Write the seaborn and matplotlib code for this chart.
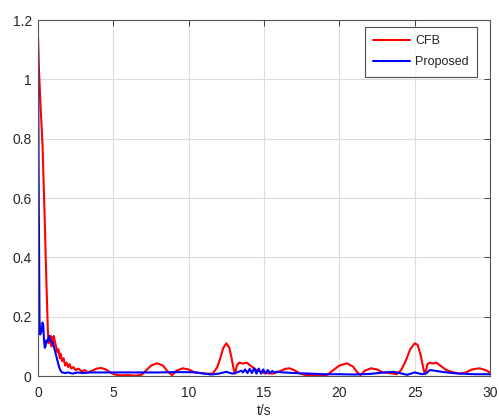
import matplotlib
matplotlib.use("Agg")
import matplotlib.pyplot as plt
import seaborn as sns
import pandas as pd
from matplotlib.ticker import FormatStrFormatter

cfb_t = [0, 0.05, 0.15, 0.3, 0.45, 0.55, 0.65, 0.7, 0.75, 0.8, 0.85, 0.9, 0.95, 1.0, 1.05, 1.1,
         1.2, 1.3, 1.35, 1.45, 1.5, 1.6, 1.7, 1.8, 1.9, 2.0, 2.1, 2.2, 2.35, 2.5, 2.7, 2.9, 3.1,
         3.3, 3.6, 3.9, 4.2, 4.5, 4.8, 5.1, 5.5, 6.0, 6.5, 6.9, 7.2, 7.5, 7.9, 8.3, 8.6, 8.9,
         9.2, 9.6, 10.0, 10.4, 10.8, 11.2, 11.6, 11.9, 12.1, 12.3, 12.5, 12.7, 12.85, 13.0,
         13.08, 13.2, 13.35, 13.6, 13.85, 14.1, 14.5, 15.0, 15.6, 16.0, 16.4, 16.7, 17.0, 17.4,
         17.8, 18.5, 19.2, 19.6, 20.0, 20.5, 20.9, 21.2, 21.4, 21.7, 22.1, 22.5, 22.9, 23.35,
         23.8, 24.1, 24.4, 24.7, 25.0, 25.2, 25.4, 25.6, 25.7, 25.85, 26.0, 26.2, 26.45, 26.7,
         27.1, 27.6, 28.0, 28.4, 28.8, 29.3, 29.7, 30.0]
cfb_v = [1.14, 1.05, 0.93, 0.78, 0.52, 0.33, 0.16, 0.11, 0.13, 0.12, 0.135, 0.10, 0.13, 0.115,
         0.135, 0.12, 0.10, 0.08, 0.09, 0.06, 0.075, 0.05, 0.06, 0.035, 0.045, 0.03, 0.04, 0.025,
         0.03, 0.02, 0.025, 0.015, 0.02, 0.012, 0.018, 0.025, 0.027, 0.022, 0.012, 0.005, 0.002,
         0.003, 0.001, 0.005, 0.02, 0.035, 0.043, 0.035, 0.015, 0.003, 0.018, 0.026, 0.022,
         0.012, 0.010, 0.008, 0.008, 0.03, 0.06, 0.095, 0.11, 0.095, 0.06, 0.02, 0.008, 0.035,
         0.045, 0.042, 0.045, 0.035, 0.02, 0.01, 0.008, 0.015, 0.024, 0.026, 0.02, 0.008, 0.003,
         0.002, 0.004, 0.02, 0.035, 0.043, 0.032, 0.012, 0.003, 0.018, 0.026, 0.022, 0.012,
         0.010, 0.006, 0.02, 0.05, 0.09, 0.11, 0.105, 0.07, 0.02, 0.006, 0.04, 0.045, 0.042,
         0.045, 0.035, 0.02, 0.012, 0.008, 0.012, 0.022, 0.026, 0.02, 0.012]

prop_t = [0, 0.05, 0.1, 0.15, 0.2, 0.25, 0.3, 0.35, 0.4, 0.45, 0.5, 0.55, 0.62, 0.7, 0.75, 0.8,
          0.9, 1.0, 1.1, 1.2, 1.3, 1.4, 1.5, 1.6, 1.8, 2.0, 2.3, 2.6, 3.0, 3.5, 4.0, 5.0, 6.0,
          7.0, 8.0, 9.0, 10.0, 10.5, 11.0, 11.5, 12.0, 12.5, 12.9, 13.2, 13.5, 13.6, 13.75, 13.9,
          14.05, 14.2, 14.35, 14.5, 14.65, 14.8, 14.95, 15.1, 15.25, 15.4, 15.55, 15.7, 15.85,
          16.0, 17.0, 18.0, 19.0, 20.0, 21.0, 22.0, 23.0, 23.6, 24.0, 24.5, 25.0, 25.5, 25.8,
          26.0, 26.3, 26.8, 27.5, 28.0, 29.0, 30.0]
prop_v = [1.14, 0.6, 0.19, 0.14, 0.155, 0.15, 0.18, 0.17, 0.12, 0.095, 0.10, 0.12, 0.115, 0.13,
          0.135, 0.12, 0.115, 0.11, 0.09, 0.07, 0.05, 0.03, 0.018, 0.012, 0.010, 0.012, 0.008,
          0.012, 0.010, 0.012, 0.012, 0.012, 0.012, 0.012, 0.012, 0.013, 0.013, 0.012, 0.008,
          0.005, 0.008, 0.014, 0.008, 0.012, 0.018, 0.012, 0.022, 0.010, 0.024, 0.010, 0.026,
          0.008, 0.025, 0.008, 0.022, 0.009, 0.020, 0.010, 0.017, 0.011, 0.015, 0.013, 0.010,
          0.008, 0.006, 0.006, 0.005, 0.007, 0.012, 0.014, 0.010, 0.004, 0.012, 0.006, 0.010,
          0.020, 0.018, 0.014, 0.010, 0.008, 0.006, 0.006]

x_ticks = [0, 5, 10, 15, 20, 25, 30]
y_ticks = [0, 0.2, 0.4, 0.6, 0.8, 1.0, 1.2]

sns.set_style("white")
plt.rcParams['font.family'] = ['Liberation Sans', 'DejaVu Sans']

df_cfb = pd.DataFrame({"t": cfb_t, "v": cfb_v})
df_prop = pd.DataFrame({"t": prop_t, "v": prop_v})

fig = plt.figure(figsize=(4.99, 4.18), dpi=100)
ax = fig.add_axes([38 / 499, 1 - 376 / 418, (490 - 38) / 499, (376 - 20) / 418])

sns.lineplot(data=df_cfb, x="t", y="v", ax=ax, color="#ff0000", linewidth=1.5, sort=False,
             label="CFB")
sns.lineplot(data=df_prop, x="t", y="v", ax=ax, color="#0000ff", linewidth=1.5, sort=False,
             label="Proposed")

ax.set_xlim(0, 30)
ax.set_ylim(0, 1.2)
ax.set_xticks(x_ticks)
ax.set_yticks(y_ticks)
ax.yaxis.set_major_formatter(FormatStrFormatter('%g'))
ax.grid(True, color="#dcdcdc", linewidth=0.8)
ax.set_axisbelow(True)
ax.set_xlabel("t/s", fontsize=10, color="#262626", labelpad=3)
ax.set_ylabel("")
ax.tick_params(direction="in", length=4, width=0.6, labelsize=10, colors="#262626",
               top=True, right=True)
ax.tick_params(axis="x", pad=7)
ax.tick_params(axis="y", pad=4.5)
for s in ax.spines.values():
    s.set_color("#555555")
    s.set_linewidth(0.8)

leg = ax.legend(loc="upper right", bbox_to_anchor=((477 - 38) / 452, (376 - 27) / 356),
                fontsize=9, frameon=True, fancybox=False, edgecolor="#262626",
                borderpad=0.65, handlelength=3.0, handletextpad=0.4,
                borderaxespad=0, labelspacing=0.75)
leg.get_frame().set_linewidth(0.8)

fig.savefig("out.png", dpi=100)
